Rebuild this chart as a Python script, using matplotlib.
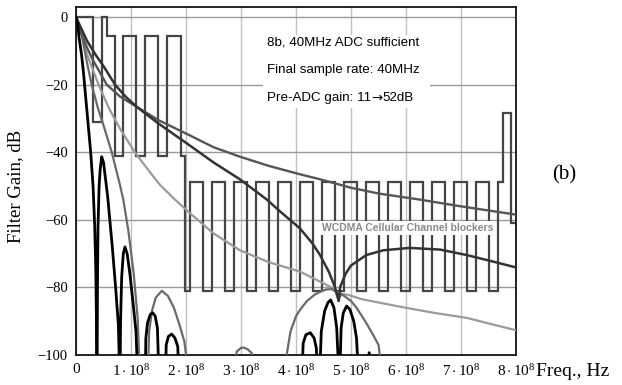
import numpy as np
import matplotlib
matplotlib.use('Agg')
import matplotlib.pyplot as plt
from matplotlib.patches import Rectangle

plt.rcParams['mathtext.fontset'] = 'custom'
plt.rcParams['mathtext.rm'] = 'Liberation Serif'
plt.rcParams['mathtext.it'] = 'Liberation Serif:italic'

# frequencies in units of 1e8 Hz, gains in dB
# WCDMA blocker mask (stairs: edges / level of each step)
mask_edges = [0, 0.31, 0.47, 0.56, 0.70, 0.86, 1.09, 1.255, 1.496, 1.66, 1.904, 1.98, 2.07,
              2.30, 2.47, 2.70, 2.87, 3.10, 3.27, 3.50, 3.67, 3.90, 4.07, 4.30, 4.47,
              4.70, 4.87, 5.10, 5.27, 5.50, 5.67, 5.90, 6.07, 6.30, 6.47, 6.70, 6.87,
              7.10, 7.27, 7.50, 7.67, 7.77, 7.90, 8.0]
mask_levels = [0, -31, 0, -5.7, -41, -5.7, -41, -5.7, -41, -5.7, -41, -81, -48.7,
               -81, -48.7, -81, -48.7, -81, -48.7, -81, -48.7, -81, -48.7, -81, -48.7,
               -81, -48.7, -81, -48.7, -81, -48.7, -81, -48.7, -81, -48.7, -81, -48.7,
               -81, -48.7, -81, -48.7, -28.5, -61]

# black filter (sinc like)
blk_f = [0, 0.03, 0.055, 0.1, 0.133, 0.2, 0.267, 0.31, 0.34, 0.36, 0.372, 0.38,
         0.383, 0.39, 0.40, 0.42, 0.44, 0.467, 0.50, 0.53, 0.575, 0.62, 0.66, 0.72, 0.77, 0.80,
         0.81, 0.83, 0.86, 0.89, 0.93, 0.98, 1.04, 1.09, 1.13, 1.2,
         1.255, 1.27, 1.30, 1.35, 1.395, 1.44, 1.48, 1.515, 1.57,
         1.62, 1.64, 1.68, 1.74, 1.80, 1.85, 1.88, 3.0,
         4.10, 4.13, 4.18, 4.26, 4.33, 4.37, 4.40,
         4.42, 4.46, 4.52, 4.58, 4.63, 4.69, 4.74, 4.79,
         4.82, 4.86, 4.92, 4.98, 5.05, 5.10, 5.15, 5.2,
         5.26, 5.33, 5.40, 5.6, 8.0]
blk_db = [0, -2, -6, -11, -16, -28, -40, -50, -62, -75, -90, -110,
          -110, -80, -62, -50, -45, -41.3, -43, -47, -53, -61, -68, -80, -91, -110,
          -90, -77, -70, -68, -70, -76, -85, -93, -110, -130,
          -110, -95, -90.5, -88, -87.5, -88.5, -92, -110, -130,
          -110, -97, -94.5, -93.8, -95, -97.5, -110, -140,
          -110, -96.5, -94, -93.4, -95, -98, -110,
          -110, -93, -87, -84.5, -83.7, -86, -92, -110,
          -92, -87.5, -85.5, -86.5, -90, -95, -110, -130,
          -110, -99.3, -110, -140, -140]

# medium grey filter
mgr_f = [0, 0.1, 0.2, 0.285, 0.4, 0.5, 0.65, 0.8, 0.86, 0.95, 1.05, 1.12, 1.17, 1.25,
         1.30, 1.33, 1.38, 1.45, 1.56, 1.67, 1.78, 1.88, 1.97, 2.08, 2.5,
         2.86, 2.92, 3.0, 3.05, 3.12, 3.2, 3.26, 3.5,
         3.83, 3.9, 4.0, 4.07, 4.2, 4.35, 4.44, 4.55, 4.65, 4.72, 4.775,
         4.82, 4.9, 5.0, 5.1, 5.2, 5.28, 5.4, 5.5, 5.6, 6.0, 8.0]
mgr_db = [0, -5, -13.5, -20, -27, -32, -40, -49.7, -54, -63, -76, -89, -110, -130,
          -110, -93, -87, -83, -81, -82.5, -86, -91, -96, -110, -140,
          -110, -99, -97.9, -97.8, -98.3, -99.5, -110, -140,
          -100, -93, -88.5, -86.7, -84, -82, -81.3, -80.6, -80.5, -81.2, -83.5,
          -81.8, -82.8, -84, -86, -88.5, -90.6, -94, -97, -110, -140, -140]

# light grey filter
lgr_f = [0, 0.1, 0.2, 0.41, 0.6, 0.8, 1.07, 1.35, 1.53, 1.8, 2.07, 2.5, 2.98, 3.5,
         4.07, 4.44, 4.68, 4.75, 4.775, 4.80, 4.88, 4.95, 5.2, 5.89, 6.5, 7.1, 7.98]
lgr_db = [0, -5, -11, -20, -27, -33, -40, -46, -49.7, -54, -58, -64, -69, -72.5,
          -75.3, -78.3, -80.3, -81.5, -84, -82.5, -82, -82.2, -83.5, -85.7, -87.5, -89, -92.6]

# dark filter 1 (notch near 4.8e8)
dk1_f = [0, 0.1, 0.2, 0.35, 0.5, 0.71, 0.9, 1.1, 1.5, 2.07, 2.5, 2.98, 3.47, 3.71,
         4.07, 4.3, 4.44, 4.6, 4.71, 4.775, 4.80, 4.9, 5.0, 5.28, 5.59, 6.07, 6.62,
         7.1, 7.5, 7.98]
dk1_db = [0, -3.5, -7, -11, -14.5, -20, -23.5, -26.5, -31.5, -38, -43, -48, -54, -57.5,
          -62.5, -67, -70.5, -75.5, -80, -84, -80, -76, -73.5, -70.4, -69, -68.3, -68.8,
          -70.4, -72, -74]

# dark filter 2 (slow roll-off)
dk2_f = [0, 0.1, 0.2, 0.3, 0.56, 0.8, 1.1, 1.5, 2.07, 2.5, 2.98, 3.5, 4.07, 4.44,
         5.0, 5.5, 6.25, 7.0, 7.98]
dk2_db = [0, -5, -9, -12.5, -20, -23.5, -26.5, -30.5, -35, -38.5, -41.3, -44, -46.5, -48,
          -50.5, -52.2, -54, -56, -58.4]

xticks = [0, 1, 2, 3, 4, 5, 6, 7, 8]
xlabels = ['0'] + [r'$%d\cdot10^{8}$' % k for k in xticks[1:]]
yticks = [0, -20, -40, -60, -80, -100]
ylabels = ['0', '\u221220', '\u221240', '\u221260', '\u221280', '\u2212100']

fig = plt.figure(figsize=(6.22, 3.85), dpi=100)
ax = fig.add_axes([0.1222, 0.0779, 0.7074, 0.9039])

ax.stairs(mask_levels, mask_edges, baseline=None, color='#454545', lw=1.6, zorder=2)
ax.plot(lgr_f, lgr_db, color='#9a9a9a', lw=1.6, zorder=3)
ax.plot(mgr_f, mgr_db, color='#6a6a6a', lw=1.6, zorder=3)
ax.plot(dk2_f, dk2_db, color='#555555', lw=1.7, zorder=3)
ax.plot(dk1_f, dk1_db, color='#333333', lw=1.8, zorder=3)
ax.plot(blk_f, blk_db, color='black', lw=2.0, zorder=4)

ax.set_xlim(0, 8)
ax.set_ylim(-100, 3)
ax.set_xticks(xticks)
ax.set_xticklabels(xlabels, family='Liberation Serif', fontsize=11)
ax.set_yticks(yticks)
ax.set_yticklabels(ylabels, family='Liberation Serif', fontsize=10.5)
ax.tick_params(length=0, pad=6)
ax.set_axisbelow(True)
ax.xaxis.grid(True, color='#c0c0c0', lw=1)
ax.yaxis.grid(True, color='#9a9a9a', lw=1)
for s in ax.spines.values():
    s.set_color('black')
    s.set_linewidth(1.2)

# white panel behind the notes
ax.add_patch(Rectangle((0.425, 0.71), 0.38, 0.21, transform=ax.transAxes,
                       facecolor='white', edgecolor='none', zorder=1))
notes = ['8b, 40MHz ADC sufficient', 'Final sample rate: 40MHz']
for i, t in enumerate(notes):
    ax.text(0.434, 0.898 - i * 0.0776, t, transform=ax.transAxes, family='Liberation Sans',
            fontsize=9.6, va='center', ha='left', zorder=5)

# third note in pieces so the arrow gets a full-size glyph
y3 = 0.898 - 2 * 0.0776
t1 = ax.text(0.434, y3, 'Pre-ADC gain: 11', transform=ax.transAxes, family='Liberation Sans',
             fontsize=9.6, va='center_baseline', ha='left', zorder=5)
r = fig.canvas.get_renderer()
x2 = ax.transAxes.inverted().transform((t1.get_window_extent(r).x1, 0))[0]
t2 = ax.text(x2, y3, '\u2192', transform=ax.transAxes, family='DejaVu Sans',
             fontsize=9.6, va='center_baseline', ha='left', zorder=5)
x3 = ax.transAxes.inverted().transform((t2.get_window_extent(r).x1, 0))[0]
ax.text(x3, y3, '52dB', transform=ax.transAxes, family='Liberation Sans',
        fontsize=9.6, va='center_baseline', ha='left', zorder=5)

ax.text(0.753, 0.365, 'WCDMA Cellular Channel blockers', transform=ax.transAxes,
        family='Liberation Sans', fontsize=7.5, fontweight='bold', color='#8a8a8a',
        ha='center', va='center', zorder=5,
        bbox=dict(facecolor='white', edgecolor='none', pad=1.5))

fig.text(16 / 622, 1 - 186 / 385, 'Filter Gain, dB', rotation=90, family='Liberation Serif',
         fontsize=13.5, ha='center', va='center')
fig.text(536 / 622, 1 - 371 / 385, 'Freq., Hz', family='Liberation Serif', fontsize=14,
         ha='left', va='center')
fig.text(564 / 622, 1 - 175 / 385, '(b)', family='Liberation Serif', fontsize=15,
         ha='center', va='center')

fig.savefig('out.png', dpi=100)
